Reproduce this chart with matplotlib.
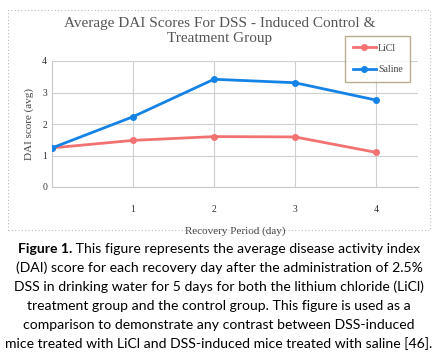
import matplotlib.pyplot as plt
from matplotlib.patches import Rectangle

days = [0, 1, 2, 3, 4]
licl = [1.24, 1.48, 1.60, 1.59, 1.10]
saline = [1.24, 2.23, 3.42, 3.31, 2.76]
xticks = [1, 2, 3, 4]
yticks = [0, 1, 2, 3, 4]

title = "Average DAI Scores For DSS - Induced Control &\nTreatment Group"
caption_first = " This figure represents the average disease activity index"
caption_lines = [
    "(DAI) score for each recovery day after the administration of 2.5%",
    "DSS in drinking water for 5 days for both the lithium chloride (LiCl)",
    "treatment group and the control group. This figure is used as a",
    "comparison to demonstrate any contrast between DSS-induced",
    "mice treated with LiCl and DSS-induced mice treated with saline [46].",
]

W, H = 437, 357
fig = plt.figure(figsize=(W / 100, H / 100), dpi=100)
fig.patch.set_facecolor('white')

# dotted outer chart frame
fig.patches.append(Rectangle((8 / W, 1 - 230 / H), 422 / W, 220 / H, transform=fig.transFigure,
                             fill=False, ec='#bbbbbb', lw=0.8, ls=(0, (1, 2))))

ax = fig.add_axes([52 / W, 1 - 187 / H, 366 / W, 126 / H])
red = '#f27272'
blue = '#1583e6'
ax.plot(days, licl, color=red, lw=2, marker='o', ms=4, label='LiCl', zorder=3)
ax.plot(days, saline, color=blue, lw=2, marker='o', ms=4, label='Saline', zorder=3)

ax.set_xlim(0, 4.52)
ax.set_ylim(0, 4)
ax.set_xticks(xticks)
ax.set_yticks(yticks)
ax.grid(True, color='#cfcfcf', lw=0.8)
ax.set_axisbelow(True)
for s in ['top', 'right']:
    ax.spines[s].set_visible(False)
for s in ['left', 'bottom']:
    ax.spines[s].set_color('#c8c8c8')
ax.tick_params(length=0, labelsize=7, colors='#333333')
ax.tick_params(axis='x', pad=13)
for lab in ax.get_xticklabels() + ax.get_yticklabels():
    lab.set_family('Liberation Serif')

ax.set_xlabel('Recovery Period (day)', family='Liberation Serif', fontsize=8, color='#444444', labelpad=9)
ax.set_ylabel('DAI score (avg)', family='Liberation Serif', fontsize=8, color='#444444', labelpad=6)

leg = fig.legend(loc='upper left', bbox_to_anchor=(340 / W, 1 - 31 / H),
                 prop={'family': 'Liberation Serif', 'size': 7}, frameon=True, fancybox=False,
                 handlelength=2.4, labelspacing=1.3, borderpad=0.8, handletextpad=0.2)
leg.get_frame().set_edgecolor('#a89a70')
leg.get_frame().set_linewidth(1)
for t in leg.get_texts():
    t.set_color('#444444')

fig.text(220 / W, 1 - 31 / H, title, ha='center', va='center', family='Liberation Serif',
         fontsize=11, color='#555555', linespacing=1.15)

# caption
fs = 10.1
t1 = fig.text(0, 1 - 249 / H, 'Figure 1.', ha='left', va='center', family='Lato',
              fontsize=fs, weight='bold')
t2 = ax.annotate(caption_first, xy=(1, 0.5), xycoords=t1, ha='left', va='center',
                 family='Lato', fontsize=fs, annotation_clip=False)
r = fig.canvas.get_renderer()
w1 = t1.get_window_extent(r).width
w2 = t2.get_window_extent(r).width
t1.set_x((219 - (w1 + w2) / 2) / W)
for i, line in enumerate(caption_lines):
    fig.text(219 / W, 1 - (268 + 19 * i) / H, line, ha='center', va='center', family='Lato', fontsize=fs)

fig.savefig('out.png', dpi=100)
